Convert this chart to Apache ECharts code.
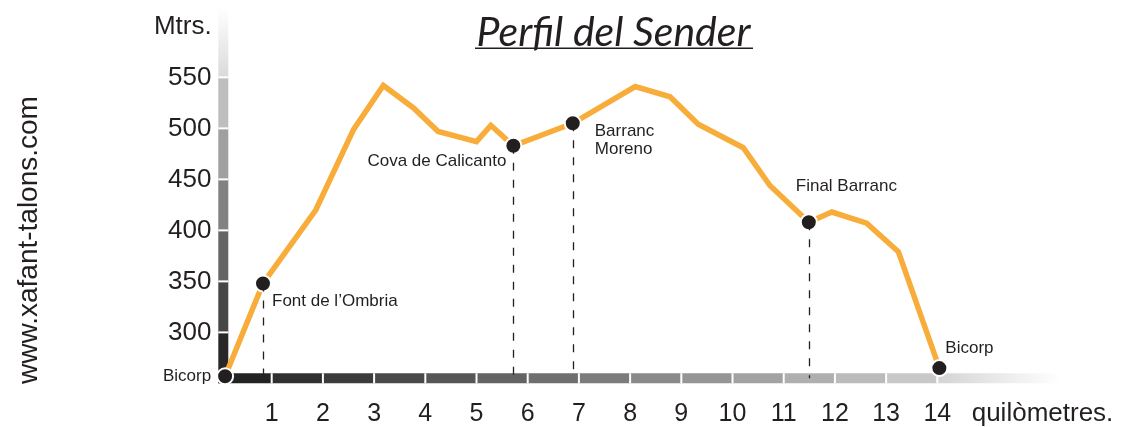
<!DOCTYPE html>
<html>
<head>
<meta charset="utf-8">
<title>Perfil del Sender</title>
<script src="https://cdn.jsdelivr.net/npm/echarts@6/dist/echarts.min.js"></script>
<style>
  html, body { margin: 0; padding: 0; background: #fff; }
  #chart { width: 1122px; height: 427px; }
</style>
</head>
<body>
<div id="chart"></div>
<script>
// perfil del sender: distancia (km) i altitud (m)
var kms  = [0.09, 0.83, 1.86, 2.6, 3.18, 3.77, 4.25, 5.0, 5.28, 5.72, 6.88, 8.10, 8.78, 9.33, 10.21, 10.73, 11.49, 11.94, 12.62, 13.24, 14.04];
var alts = [257, 348, 420, 499, 542, 520, 497, 487, 503, 483, 505, 541, 531, 504, 481, 444, 408, 418, 407, 379, 265];

// punts de pas (index dins del perfil)
var pointNames = ['Bicorp', 'Font de l’Ombria', 'Cova de Calicanto', 'Barranc\nMoreno', 'Final Barranc', 'Bicorp'];
var pointIdx   = [0, 1, 9, 10, 16, 20];

var kmTicks  = [1, 2, 3, 4, 5, 6, 7, 8, 9, 10, 11, 12, 13, 14];
var altTicks = [300, 350, 400, 450, 500, 550];

var X_MIN = 0, X_MAX = 16.4, Y_MIN = 255, Y_MAX = 618;
var INK = '#231f20';
var FONT = 'Liberation Sans';

// posicio de les etiquetes respecte al punt (px)
var labelPlace = [
  { align: 'right', offset: [-14, 0] },
  { align: 'left',  offset: [9, 18] },
  { align: 'right', offset: [-7, 16] },
  { align: 'left',  offset: [22, 17] },
  { align: 'left',  offset: [-13, -36] },
  { align: 'left',  offset: [6, -20] }
];

function grey(v) {
  v = Math.max(0, Math.min(255, Math.round(v)));
  return 'rgb(' + v + ',' + v + ',' + v + ')';
}

// barres dels eixos amb degradat per trams
function renderAxisBars(params, api) {
  var o = api.coord([X_MIN, Y_MIN]);
  var xe = api.coord([X_MAX, Y_MIN])[0];
  var yt = api.coord([X_MIN, Y_MAX])[1];
  var left = o[0] - 2.2;
  var bottom = o[1] + 5;
  var kids = [];

  var hx = [left].concat(kmTicks.map(function (k) { return api.coord([k, Y_MIN])[0]; }));
  for (var i = 0; i < hx.length - 1; i++) {
    kids.push({ type: 'rect', shape: { x: hx[i], y: o[1] - 5, width: hx[i + 1] - hx[i], height: 10 },
      style: { fill: grey(35 + i * 12.7) } });
  }
  var last = hx[hx.length - 1];
  kids.push({ type: 'rect', shape: { x: last, y: o[1] - 5, width: xe - last, height: 10 },
    style: { fill: new echarts.graphic.LinearGradient(0, 0, 1, 0, [
      { offset: 0, color: grey(212) }, { offset: 1, color: '#ffffff' }]) } });

  var vy = [bottom].concat(altTicks.map(function (a) { return api.coord([X_MIN, a])[1]; }));
  for (var j = 0; j < vy.length - 1; j++) {
    kids.push({ type: 'rect', shape: { x: left, y: vy[j + 1], width: 10, height: vy[j] - vy[j + 1] },
      style: { fill: grey(40 + j * 30) } });
  }
  var top = vy[vy.length - 1];
  kids.push({ type: 'rect', shape: { x: left, y: yt, width: 10, height: top - yt },
    style: { fill: new echarts.graphic.LinearGradient(0, 1, 0, 0, [
      { offset: 0, color: grey(218) }, { offset: 1, color: '#ffffff' }]) } });

  // separadors blancs
  hx.slice(1).forEach(function (x) {
    kids.push({ type: 'line', shape: { x1: x, y1: o[1] - 5, x2: x, y2: o[1] + 5 },
      style: { stroke: '#fff', lineWidth: 2 } });
  });
  vy.slice(1).forEach(function (y) {
    kids.push({ type: 'line', shape: { x1: left, y1: y, x2: left + 10, y2: y },
      style: { stroke: '#fff', lineWidth: 2 } });
  });
  return { type: 'group', children: kids };
}

var profile = kms.map(function (k, i) { return [k, alts[i]]; });

var waypoints = pointIdx.map(function (idx, i) {
  return {
    name: pointNames[i],
    value: [kms[idx], alts[idx]],
    label: { align: labelPlace[i].align, offset: labelPlace[i].offset }
  };
});

var guides = pointIdx.slice(1, -1).map(function (idx) {
  return [{ coord: [kms[idx], alts[idx]] }, { coord: [kms[idx], Y_MIN] }];
});

var chart = echarts.init(document.getElementById('chart'));

var option = {
  animation: false,
  grid: { left: 220.5, right: 61.8, top: 8, bottom: 48.7 },
  xAxis: {
    type: 'value', min: X_MIN, max: X_MAX,
    axisLine: { show: false }, axisTick: { show: false }, splitLine: { show: false },
    axisLabel: { customValues: kmTicks, fontSize: 25, color: INK, fontFamily: FONT, margin: 23 }
  },
  yAxis: {
    type: 'value', min: Y_MIN, max: Y_MAX,
    axisLine: { show: false }, axisTick: { show: false }, splitLine: { show: false },
    axisLabel: { customValues: altTicks, fontSize: 26, color: INK, fontFamily: FONT, margin: 9 }
  },
  graphic: [
    { type: 'text', x: 613.5, y: 33,
      style: { text: 'Perfil del Sender', font: 'italic 41px Lato', fill: INK, align: 'center', verticalAlign: 'middle' } },
    { type: 'line', shape: { x1: 475, y1: 48.3, x2: 753, y2: 48.3 }, style: { stroke: INK, lineWidth: 1.5 } },
    { type: 'text', x: 211.7, y: 27,
      style: { text: 'Mtrs.', font: '26px "Liberation Sans"', fill: INK, align: 'right', verticalAlign: 'middle' } },
    { type: 'text', x: 971.7, y: 414,
      style: { text: 'quilòmetres.', font: '26px "Liberation Sans"', fill: INK, align: 'left', verticalAlign: 'middle' } },
    { type: 'text', x: 29, y: 240, rotation: Math.PI / 2,
      style: { text: 'www.xafant-talons.com', font: '28px "Liberation Sans"', fill: INK, align: 'center', verticalAlign: 'middle' } }
  ],
  series: [
    {
      name: 'eixos', type: 'custom', silent: true, z: 1, clip: false,
      renderItem: renderAxisBars, data: [[X_MIN, Y_MIN]]
    },
    {
      name: 'perfil', type: 'line', data: profile, z: 3,
      symbol: 'none', silent: true,
      lineStyle: { color: '#f8ad3b', width: 5.5, join: 'miter' },
      markLine: {
        silent: true, symbol: ['none', 'none'], label: { show: false },
        lineStyle: { color: INK, width: 1.3, type: [8, 9] },
        data: guides
      }
    },
    {
      name: 'punts', type: 'scatter', data: waypoints, z: 4,
      symbolSize: 16,
      itemStyle: { color: INK, borderColor: '#fff', borderWidth: 2, opacity: 1 },
      label: {
        show: true, position: 'inside', verticalAlign: 'middle',
        formatter: '{b}', fontSize: 17, lineHeight: 18, color: INK, fontFamily: FONT
      }
    }
  ]
};

chart.setOption(option);
window.addEventListener('resize', function () { chart.resize(); });
</script>
</body>
</html>
